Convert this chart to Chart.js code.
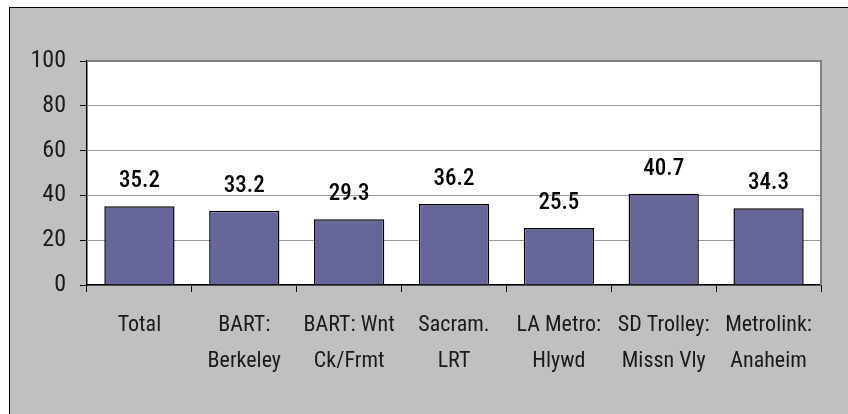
<!DOCTYPE html>
<html>
<head>
<meta charset="utf-8">
<script src="https://cdn.jsdelivr.net/npm/chart.js@4/dist/chart.umd.min.js"></script>
<style>
  html, body { margin: 0; padding: 0; background: #ffffff; }
  #wrap { width: 848px; height: 414px; position: relative; }
</style>
</head>
<body>
<div id="wrap"><canvas id="c" width="848" height="414"></canvas></div>
<script>
const categories = [
  ["Total"],
  ["BART:", "Berkeley"],
  ["BART: Wnt", "Ck/Frmt"],
  ["Sacram.", "LRT"],
  ["LA Metro:", "Hlywd"],
  ["SD Trolley:", "Missn Vly"],
  ["Metrolink:", "Anaheim"]
];
const values = [35.2, 33.2, 29.3, 36.2, 25.5, 40.7, 34.3];
const yTicks = [0, 20, 40, 60, 80, 100];

const FONT = "'Roboto Condensed', 'Liberation Sans', sans-serif";

const backgroundPlugin = {
  id: 'bg',
  beforeDraw(chart) {
    const ctx = chart.ctx;
    const w = chart.width, h = chart.height;
    ctx.save();
    ctx.fillStyle = '#ffffff';
    ctx.fillRect(0, 0, w, h);
    ctx.fillStyle = '#000000';
    ctx.fillRect(9, 7, w - 9, h - 7);
    ctx.fillStyle = '#c0c0c0';
    ctx.fillRect(10, 8, w - 10, h - 8);
    const a = chart.chartArea;
    ctx.fillStyle = '#ffffff';
    ctx.fillRect(a.left, a.top, a.right - a.left, a.bottom - a.top);
    ctx.restore();
  },
  afterDraw(chart) {
    const ctx = chart.ctx;
    const a = chart.chartArea;
    ctx.save();
    ctx.strokeStyle = '#808080';
    ctx.lineWidth = 2;
    ctx.beginPath();
    ctx.moveTo(a.left, a.top);
    ctx.lineTo(a.right, a.top);
    ctx.lineTo(a.right, a.bottom);
    ctx.stroke();
    ctx.restore();
  }
};

const valueLabelPlugin = {
  id: 'valueLabels',
  afterDatasetsDraw(chart) {
    const ctx = chart.ctx;
    const meta = chart.getDatasetMeta(0);
    ctx.save();
    ctx.fillStyle = '#000000';
    ctx.font = "500 23px " + FONT;
    ctx.textAlign = 'center';
    ctx.textBaseline = 'alphabetic';
    meta.data.forEach((bar, i) => {
      ctx.fillText(values[i].toFixed(1), bar.x, bar.y - 19);
    });
    ctx.restore();
  }
};

new Chart(document.getElementById('c'), {
  type: 'bar',
  data: {
    labels: categories,
    datasets: [{
      data: values,
      backgroundColor: '#666699',
      borderColor: '#000000',
      borderWidth: 1.5,
      barPercentage: 0.67,
      categoryPercentage: 1.0
    }]
  },
  options: {
    responsive: false,
    animation: false,
    devicePixelRatio: 1,
    layout: { padding: { left: 0, top: 61, right: 27, bottom: 0 } },
    plugins: { legend: { display: false }, tooltip: { enabled: false } },
    scales: {
      x: {
        offset: true,
        grid: { display: true, drawOnChartArea: false, drawTicks: true, tickLength: 7, color: '#000000', tickColor: '#000000', offset: true },
        border: { display: true, color: '#000000', width: 1.5 },
        ticks: {
          color: '#1a1a1a',
          font: { family: FONT, size: 22, lineHeight: 1.64 },
          padding: 15,
          maxRotation: 0,
          autoSkip: false
        },
        afterFit(scale) { scale.height = 129; }
      },
      y: {
        min: 0,
        max: 100,
        afterBuildTicks(scale) { scale.ticks = yTicks.map(v => ({ value: v })); },
        grid: { color: '#999999', lineWidth: 1, drawTicks: true, tickLength: 7, tickColor: '#000000' },
        border: { display: true, color: '#000000', width: 1.5 },
        ticks: {
          color: '#1a1a1a',
          font: { family: FONT, size: 24 },
          padding: 14
        },
        afterFit(scale) { scale.width = 87; }
      }
    }
  },
  plugins: [backgroundPlugin, valueLabelPlugin]
});
</script>
</body>
</html>
